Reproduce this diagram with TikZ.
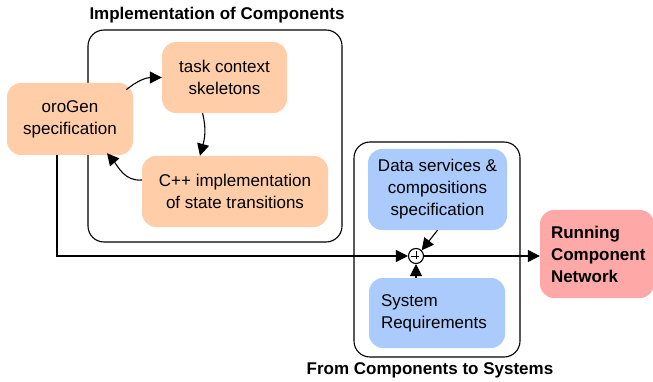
\documentclass[tikz,border=0pt]{standalone}
\usepackage{fontspec}
\setmainfont{Liberation Sans}
\usepackage{xcolor}
\usepackage{tikz}
\usetikzlibrary{arrows.meta}
\definecolor{peach}{HTML}{FFCDA8}
\definecolor{sky}{HTML}{AACBFC}
\definecolor{rose}{HTML}{FFA8A8}
\tikzset{
  frame/.style={draw=black, line width=1.1pt, rounded corners=16pt},
  box/.style={rounded corners=14pt, inner sep=0pt, align=center, font=\fontsize{17}{22}\selectfont},
  comp/.style={box, fill=peach},
  sys/.style={box, fill=sky},
  goal/.style={box, fill=rose, align=left, font=\fontsize{17}{22}\selectfont\bfseries},
  flow/.style={draw=black, line width=1.1pt, -{Triangle[length=12pt,width=12pt]}},
  ttl/.style={font=\fontsize{17}{22}\selectfont\bfseries},
  sumdot/.style={circle, draw=black, line width=1.1pt, minimum size=15pt, inner sep=0pt},
}

\begin{document}
\begin{tikzpicture}[x=1pt,y=1pt]
  \useasboundingbox (0,0) rectangle (653,-382);
  \draw[frame] (88,-30) rectangle (342,-242);
  \draw[frame] (354,-142) rectangle (520,-357);
  \node[ttl] (implttl) at (217,-15) {Implementation of Components};
  \node[ttl] (systtl) at (430,-370) {From Components to Systems};
  \node[comp, minimum width=126pt, minimum height=72pt] (oro) at (70,-119) {oroGen\\specification};
  \node[comp, minimum width=125pt, minimum height=71pt] (task) at (224.5,-77.5) {task context\\skeletons};
  \node[comp, minimum width=186pt, minimum height=71pt] (cpp) at (235,-191.5) {C++ implementation\\of state transitions};
  \node[sys, minimum width=139pt, minimum height=81pt] (data) at (437.5,-189.5) {Data services \&\\compositions\\specification};
  \node[sys, minimum width=136pt, minimum height=70pt, align=left, text width=112pt] (req) at (437,-313) {System\\Requirements};
  \node[goal, minimum width=114pt, minimum height=88pt, text width=92pt] (run) at (597,-254) {Running\\Component\\Network};
  \node[sumdot] (sum) at (416,-256) {};
  \draw[line width=0.9pt] (sum.north) ++(0,-3.5) -- ++(0,-8) (sum.west) ++(3.5,0) -- ++(8,0);
  \draw[flow] ([xshift=-7pt,yshift=-7pt]oro.north east) to[out=40, in=180] (task.west);
  \draw[flow] ([xshift=-22pt]task.south) to[out=-75, in=75] ([xshift=-35pt]cpp.north);
  \draw[flow] ([yshift=11.5pt]cpp.west) to[out=185, in=-50] ([xshift=37pt,yshift=2pt]oro.south);
  \draw[flow] ([xshift=-13pt]oro.south) |- (sum.west);
  \draw[flow] (data.south) -- (sum.north east);
  \draw[flow] (sum.south |- req.north) -- (sum.south);
  \draw[flow] (sum.east) -- (sum -| run.west);
\end{tikzpicture}
\end{document}
